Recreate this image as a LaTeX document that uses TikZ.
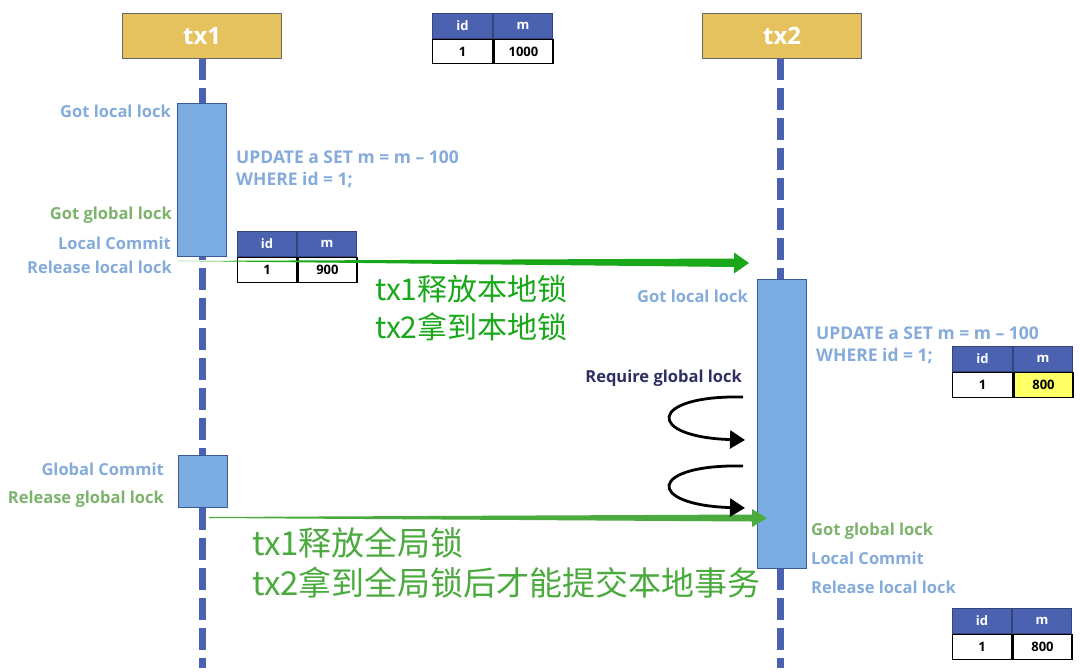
\documentclass[tikz,border=0pt]{standalone}
\usepackage{fontspec}
\setmainfont{Open Sans}
\newfontfamily\cjk{Noto Sans CJK SC}
\usetikzlibrary{arrows.meta}
\definecolor{gold}{HTML}{E6C25E}
\definecolor{life}{HTML}{4A62B0}
\definecolor{act}{HTML}{7BADE3}
\definecolor{actb}{HTML}{3A5A9A}
\definecolor{lblue}{HTML}{85ABDB}
\definecolor{lgreen}{HTML}{7DB36D}
\definecolor{brg}{HTML}{19A819}
\definecolor{dkg}{HTML}{4BAA3E}
\definecolor{navy}{HTML}{2D3060}
\definecolor{hdr}{HTML}{4A62B0}
\definecolor{yel}{HTML}{FFFF66}
\tikzset{
  header/.style={draw=gray!80!black, line width=1.2pt, fill=gold, anchor=north west, inner sep=0pt, text=white, font=\fontsize{24}{26}\selectfont\bfseries},
  lifeline/.style={life, line width=7pt, dash pattern=on 22pt off 8pt},
  actbox/.style={draw=actb, line width=1.2pt, fill=act, anchor=north west, inner sep=0pt},
  lab/.style={font=\fontsize{16.5}{19}\selectfont\bfseries, inner sep=0pt},
  upd/.style={font=\fontsize{17.5}{20}\selectfont\bfseries, inner sep=0pt, text=lblue, anchor=west, align=left},
  hcell/.style={draw=hdr!70!black, line width=1pt, fill=hdr, anchor=north west, inner sep=0pt, text=white, font=\fontsize{13}{15}\selectfont\bfseries},
  rcell/.style={draw=black, line width=1.3pt, fill=white, anchor=north west, inner sep=0pt, text=black, font=\fontsize{13}{15}\selectfont\bfseries},
  cn/.style={font=\cjk\fontsize{30}{34}\selectfont, inner sep=0pt, anchor=west},
  curl/.style={black, line width=2.8pt, -{Triangle[length=15pt,width=18pt]}},
}
\newcommand{\dbtab}[8]{%
  % #1 name, #2 x, #3 y, #4 w1, #5 w2, #6 h, #7 value, #8 value fill
  \node[hcell, minimum width=#4pt, minimum height=#6pt] (#1h1) at (#2,#3) {id};
  \node[hcell, minimum width=#5pt, minimum height=#6pt] (#1h2) at (#1h1.north east) {m};
  \node[rcell, minimum width=#4pt, minimum height=#6pt] (#1r1) at (#1h1.south west) {1};
  \node[rcell, minimum width=#5pt, minimum height=#6pt, fill=#8] (#1r2) at (#1r1.north east) {#7};
}
\begin{document}
\begin{tikzpicture}[x=1pt,y=-1pt]
\useasboundingbox (0,0) rectangle (1080,672);
\fill[white] (0,0) rectangle (1080,672);

% lifelines
\coordinate (l1top) at (202,58);
\coordinate (l1bot) at (202,668);
\coordinate (l2top) at (780,58);
\coordinate (l2bot) at (780,668);
\draw[lifeline] (l1top) -- (l1bot);
\draw[lifeline] (l2top) -- (l2bot);

% headers
\node[header, minimum width=159pt, minimum height=45pt] (tx1) at (122,13) {tx1};
\node[header, minimum width=159pt, minimum height=45pt] (tx2) at (702,13) {tx2};

% activations
\node[actbox, minimum width=49pt, minimum height=153pt] (a1) at (177,103) {};
\node[actbox, minimum width=49pt, minimum height=52pt] (a2) at (178,455) {};
\node[actbox, minimum width=49pt, minimum height=289pt] (a3) at (757,279) {};

% tables
\dbtab{t0}{432}{13}{60}{59}{24.5}{1000}{white}
\dbtab{t1}{237}{231}{59}{59}{25}{900}{white}
\dbtab{t2}{952}{346}{60}{59}{25}{800}{yel}
\dbtab{t3}{952}{608}{59}{59}{25}{800}{white}

% tx1 labels
\node[lab, lblue, anchor=east] (g1) at (171,111) {Got local lock};
\node[upd] (u1) at (236,169) {UPDATE a SET m = m -- 100\\[2pt]WHERE id = 1;};
\node[lab, lgreen, anchor=east] (gg1) at (172,215) {Got global lock};
\node[lab, lblue, anchor=east] (lc1) at (171,243) {Local Commit};
\node[lab, lblue, anchor=east] (rl1) at (172,267) {Release local lock};
\node[lab, lblue, anchor=east] (gc1) at (164,469) {Global Commit};
\node[lab, lgreen, anchor=east] (rg1) at (164,499) {Release global lock};

% tx2 labels
\node[lab, lblue, anchor=east] (g2) at (748,296) {Got local lock};
\node[upd] (u2) at (816,345) {UPDATE a SET m = m -- 100\\[2pt]WHERE id = 1;};
\node[lab, navy, anchor=east] (rq) at (742,378) {Require global lock};
\node[lab, lgreen, anchor=west] (gg2) at (811,531) {Got global lock};
\node[lab, lblue, anchor=west] (lc2) at (811,558) {Local Commit};
\node[lab, lblue, anchor=west] (rl2) at (811,587) {Release local lock};

% green arrow 1 (tapered)
\coordinate (s1) at (177,261);
\coordinate (e1) at (749,263);
\fill[brg] (s1) -- (734,258.5) -- (734,252.5) -- (e1) -- (734,273.5) -- (734,267) -- (s1) -- (s1) ++(0,1) -- cycle;
\node[cn, text=brg] (c1) at (375,289) {tx1释放本地锁};
\node[cn, text=brg] (c2) at (375,327) {tx2拿到本地锁};

% green arrow 2 (tapered)
\coordinate (s2) at (209,517);
\coordinate (e2) at (767,518);
\fill[dkg] (s2) -- (752,514.5) -- (752,509) -- (e2) -- (752,527) -- (752,521.5) -- (209,518) -- cycle;
\node[cn, text=dkg, font=\cjk\fontsize{33}{37}\selectfont] (c3) at (252,543) {tx1释放全局锁};
\node[cn, text=dkg, font=\cjk\fontsize{33}{37}\selectfont] (c4) at (252,583) {tx2拿到全局锁后才能提交本地事务};

% curls
\coordinate (cs1) at (743,397);
\coordinate (ce1) at (745,440);
\coordinate (cs2) at (743,466);
\coordinate (ce2) at (745,508);
\draw[curl] (cs1) .. controls (648,395) and (645,437) .. (ce1);
\draw[curl] (cs2) .. controls (648,464) and (645,505) .. (ce2);
\end{tikzpicture}
\end{document}
